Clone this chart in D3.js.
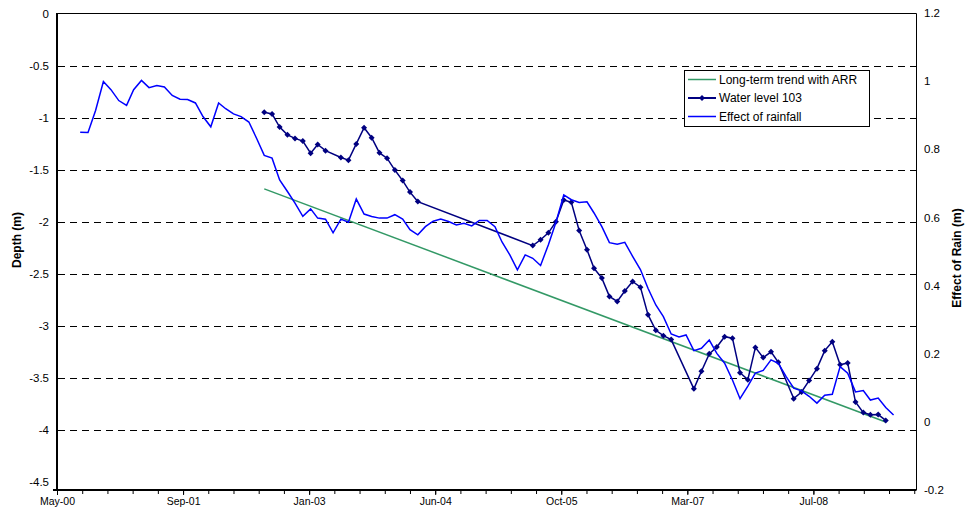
<!DOCTYPE html>
<html>
<head>
<meta charset="UTF-8">
<title>Depth and effect of rain</title>
<script src="https://cdn.jsdelivr.net/npm/d3@7"></script>
<style>
  body { margin: 0; background: #fff; }
  svg text { font-family: Arial, "Liberation Sans", sans-serif; fill: #000; }
</style>
</head>
<body>
<div id="chart"></div>
<script>
// Effect of rainfall (right axis), one value a month starting Aug-00
const rainStart = "2000-08-01";
const rainValues = [
  0.850, 0.849, 0.914, 0.999, 0.975, 0.943, 0.929, 0.975, 1.002, 0.981,
  0.987, 0.983, 0.958, 0.947, 0.946, 0.936, 0.896, 0.866, 0.936, 0.919,
  0.904, 0.896, 0.880, 0.833, 0.782, 0.774, 0.710, 0.676, 0.642, 0.603,
  0.625, 0.598, 0.595, 0.555, 0.595, 0.586, 0.654, 0.610, 0.603, 0.598,
  0.598, 0.608, 0.595, 0.564, 0.549, 0.573, 0.589, 0.595, 0.588, 0.578,
  0.583, 0.575, 0.591, 0.591, 0.573, 0.528, 0.490, 0.446, 0.490, 0.480,
  0.459, 0.520, 0.586, 0.666, 0.652, 0.644, 0.646, 0.613, 0.573, 0.526,
  0.521, 0.527, 0.486, 0.447, 0.392, 0.343, 0.309, 0.258, 0.249, 0.255,
  0.209, 0.216, 0.240, 0.201, 0.172, 0.123, 0.068, 0.105, 0.143, 0.151,
  0.182, 0.172, 0.133, 0.099, 0.091, 0.075, 0.055, 0.078, 0.081, 0.162,
  0.143, 0.088, 0.092, 0.064, 0.070, 0.042, 0.020
];

// Water level 103 (left axis)
const levelDates = [
  "2002-08", "2002-09", "2002-10", "2002-11", "2002-12", "2003-01", "2003-02", "2003-03",
  "2003-04", "2003-06", "2003-07", "2003-08", "2003-09", "2003-10", "2003-11", "2003-12",
  "2004-01", "2004-02", "2004-03", "2004-04", "2005-07", "2005-08", "2005-09", "2005-10",
  "2005-11", "2005-12", "2006-01", "2006-02", "2006-03", "2006-04", "2006-05", "2006-06",
  "2006-07", "2006-08", "2006-09", "2006-10", "2006-11", "2006-12", "2007-01", "2007-04",
  "2007-05", "2007-06", "2007-07", "2007-08", "2007-09", "2007-10", "2007-11", "2007-12",
  "2008-01", "2008-02", "2008-03", "2008-05", "2008-06", "2008-07", "2008-08", "2008-09",
  "2008-10", "2008-11", "2008-12", "2009-01", "2009-02", "2009-03", "2009-04", "2009-05"
];
const levelValues = [
  -0.948, -0.964, -1.090, -1.165, -1.199, -1.224, -1.341, -1.257,
  -1.317, -1.383, -1.408, -1.252, -1.096, -1.192, -1.338, -1.389,
  -1.503, -1.604, -1.715, -1.806, -2.229, -2.173, -2.106, -2.000,
  -1.791, -1.813, -2.083, -2.268, -2.447, -2.541, -2.717, -2.765,
  -2.665, -2.573, -2.628, -2.892, -3.043, -3.094, -3.132, -3.605,
  -3.436, -3.269, -3.203, -3.104, -3.118, -3.450, -3.517, -3.207,
  -3.305, -3.249, -3.350, -3.699, -3.635, -3.526, -3.411, -3.238,
  -3.152, -3.374, -3.356, -3.732, -3.833, -3.854, -3.852, -3.908
];

// Long-term trend with ARR (left axis)
const trendDates = ["2002-08", "2009-05"];
const trendValues = [-1.684, -3.924];

// axes
const xDomain = ["2000-05-01", "2009-08-29"];
const xTickDates = ["2000-05-01", "2001-09-13", "2003-01-26", "2004-06-09", "2005-10-22", "2007-03-06", "2008-07-18"];
const leftTicks = [0, -0.5, -1, -1.5, -2, -2.5, -3, -3.5, -4, -4.5];
const rightTicks = [1.2, 1, 0.8, 0.6, 0.4, 0.2, 0, -0.2];

const width = 966, height = 511;
const plot = { left: 57, right: 916, top: 13, bottom: 490 };

const parseDay = d3.timeParse("%Y-%m-%d");
const parseMonth = d3.timeParse("%Y-%m");

const svg = d3.select("#chart").append("svg")
  .attr("width", width)
  .attr("height", height)
  .style("display", "block");

svg.append("rect").attr("width", width).attr("height", height).attr("fill", "#fff");

const x = d3.scaleTime()
  .domain(xDomain.map(parseDay))
  .range([plot.left, plot.right]);

// the left scale ends a little above the category axis in the original
const yLeft = d3.scaleLinear().domain([-4.5, 0]).range([482, 13.6]);
const yRight = d3.scaleLinear().domain([-0.2, 1.2]).range([plot.bottom, plot.top]);

// dashed gridlines on the left-axis ticks
svg.append("g")
  .selectAll("line")
  .data(leftTicks.filter(d => d < 0 && d > -4.5))
  .join("line")
  .attr("x1", plot.left + 1)
  .attr("x2", plot.right)
  .attr("y1", d => Math.round(yLeft(d)) + 0.5)
  .attr("y2", d => Math.round(yLeft(d)) + 0.5)
  .attr("stroke", "#000")
  .attr("stroke-width", 1)
  .attr("stroke-dasharray", "7,5");

// plot border: top and right
svg.append("path")
  .attr("d", `M${plot.left},${plot.top + 0.5}H${plot.right + 0.5}V${plot.bottom}`)
  .attr("fill", "none")
  .attr("stroke", "#000")
  .attr("stroke-width", 1);

// left axis
const leftAxis = svg.append("g")
  .attr("transform", `translate(${plot.left},0)`)
  .call(d3.axisLeft(yLeft).tickValues(leftTicks).tickSize(0).tickPadding(8).tickFormat(d => String(d)));
leftAxis.select(".domain")
  .attr("d", `M0,${plot.top}V${plot.bottom}`)
  .attr("stroke-width", 2);
leftAxis.selectAll("text").style("font-size", "11.5px");

// right axis
const rightAxis = svg.append("g")
  .attr("transform", `translate(${plot.right},0)`)
  .call(d3.axisRight(yRight).tickValues(rightTicks).tickSize(0).tickPadding(8).tickFormat(d => String(d)));
rightAxis.select(".domain").remove();
rightAxis.selectAll("text").style("font-size", "11.5px");

// bottom axis: minor ticks every 100 days, labelled ticks every 500
const xStart = parseDay(xDomain[0]);
const minorTicks = d3.range(0, 35).map(k => d3.timeDay.offset(xStart, k * 100));
svg.append("g")
  .attr("transform", `translate(0,${plot.bottom})`)
  .call(d3.axisBottom(x).tickValues(minorTicks).tickSize(4).tickFormat(""))
  .select(".domain").remove();

const bottomAxis = svg.append("g")
  .attr("transform", `translate(0,${plot.bottom})`)
  .call(d3.axisBottom(x).tickValues(xTickDates.map(parseDay)).tickSize(5).tickPadding(3)
    .tickFormat(d3.timeFormat("%b-%y")));
bottomAxis.select(".domain")
  .attr("d", `M${plot.left - 4},0H${plot.right + 0.5}`)
  .attr("stroke-width", 2);
bottomAxis.selectAll("text").style("font-size", "10.5px");

// axis titles
svg.append("text")
  .attr("transform", `translate(21,240) rotate(-90)`)
  .attr("text-anchor", "middle")
  .style("font-size", "12px")
  .style("font-weight", "bold")
  .text("Depth (m)");

svg.append("text")
  .attr("transform", `translate(961,258) rotate(-90)`)
  .attr("text-anchor", "middle")
  .style("font-size", "12px")
  .style("font-weight", "bold")
  .text("Effect of Rain (m)");

// series
const rainData = rainValues.map((v, i) => ({ date: d3.timeMonth.offset(parseDay(rainStart), i), value: v }));
const levelData = levelDates.map((d, i) => ({ date: parseMonth(d), value: levelValues[i] }));
const trendData = trendDates.map((d, i) => ({ date: parseMonth(d), value: trendValues[i] }));

const lineLeft = d3.line().x(d => x(d.date)).y(d => yLeft(d.value));
const lineRight = d3.line().x(d => x(d.date)).y(d => yRight(d.value));

svg.append("path")
  .datum(trendData)
  .attr("fill", "none")
  .attr("stroke", "#339966")
  .attr("stroke-width", 1.5)
  .attr("d", lineLeft);

svg.append("path")
  .datum(levelData)
  .attr("fill", "none")
  .attr("stroke", "#000080")
  .attr("stroke-width", 1.5)
  .attr("d", lineLeft);

const diamond = d3.symbol(d3.symbolSquare, 18);
svg.append("g")
  .selectAll("path")
  .data(levelData)
  .join("path")
  .attr("d", diamond)
  .attr("transform", d => `translate(${x(d.date)},${yLeft(d.value)}) rotate(45)`)
  .attr("fill", "#000080");

svg.append("path")
  .datum(rainData)
  .attr("fill", "none")
  .attr("stroke", "#0000ff")
  .attr("stroke-width", 1.5)
  .attr("d", lineRight);

// legend
const legendItems = [
  { name: "Long-term trend with ARR", color: "#339966", marker: false },
  { name: "Water level 103", color: "#000080", marker: true },
  { name: "Effect of rainfall", color: "#0000ff", marker: false }
];
const legend = svg.append("g").attr("transform", "translate(684,70)");
legend.append("rect")
  .attr("x", 0.5).attr("y", 0.5)
  .attr("width", 185).attr("height", 56)
  .attr("fill", "#fff")
  .attr("stroke", "#000");
const rows = legend.selectAll("g.item")
  .data(legendItems)
  .join("g")
  .attr("class", "item")
  .attr("transform", (d, i) => `translate(0,${9.5 + i * 18.5})`);
rows.append("line")
  .attr("x1", 4).attr("x2", 32)
  .attr("stroke", d => d.color)
  .attr("stroke-width", d => d.marker ? 2 : 1.5);
rows.filter(d => d.marker).append("path")
  .attr("d", diamond)
  .attr("transform", "translate(18,0) rotate(45)")
  .attr("fill", d => d.color);
rows.append("text")
  .attr("x", 35)
  .attr("dy", "0.35em")
  .style("font-size", "12px")
  .text(d => d.name);
</script>
</body>
</html>
